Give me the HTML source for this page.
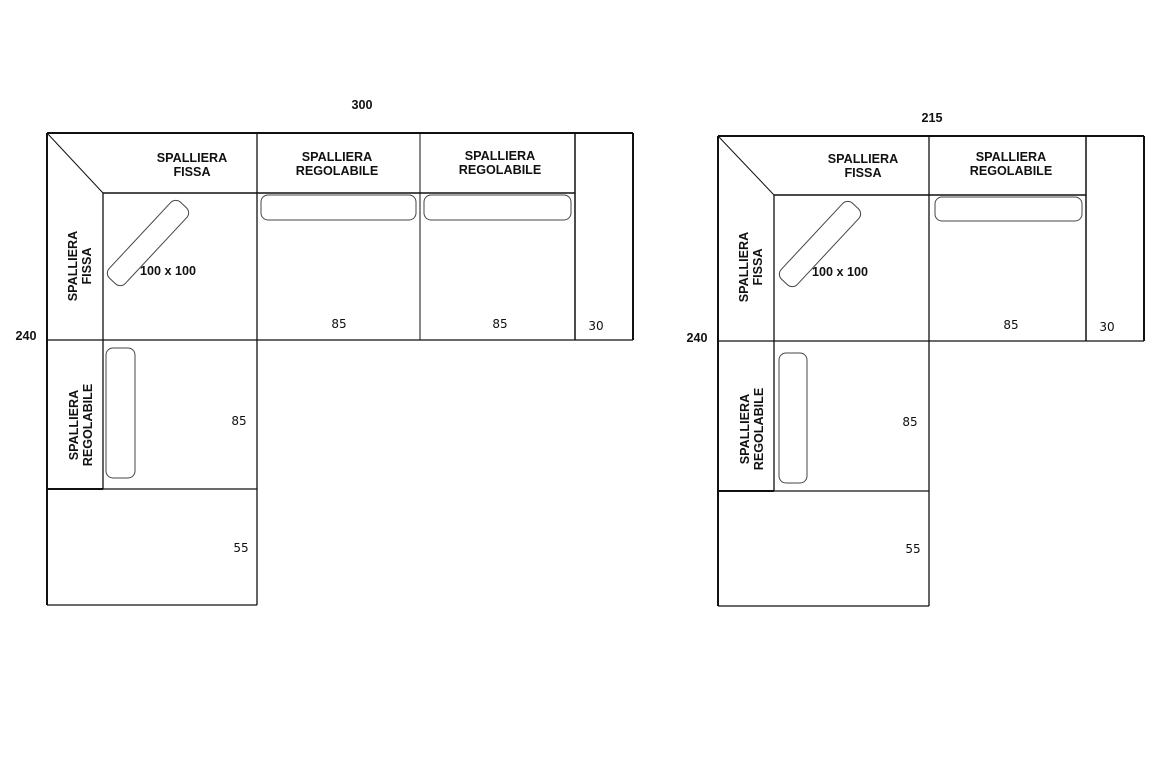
<!DOCTYPE html>
<html><head><meta charset="utf-8"><style>
html,body{margin:0;padding:0;background:#fff;}
svg{display:block}
.b{font-family:"Liberation Sans",Arial,sans-serif;font-weight:bold;font-size:12.6px;fill:#111}
.n{font-family:"DejaVu Sans","Liberation Sans",sans-serif;font-size:12px;fill:#111}
</style></head><body>
<svg width="1167" height="777" viewBox="0 0 1167 777" xmlns="http://www.w3.org/2000/svg">
<g stroke="#111" fill="none" stroke-width="1.3">
<line x1="47" y1="133" x2="633" y2="133" stroke-width="2"/>
<line x1="47" y1="133" x2="47" y2="605" stroke-width="2"/>
<line x1="47" y1="605" x2="257" y2="605"/>
<line x1="47" y1="133" x2="103" y2="193" stroke-width="1"/>
<line x1="103" y1="193" x2="575" y2="193" stroke-width="1.5"/>
<line x1="103" y1="193" x2="103" y2="489"/>
<line x1="257" y1="133" x2="257" y2="605"/>
<line x1="420" y1="133" x2="420" y2="340" stroke-width="1"/>
<line x1="575" y1="133" x2="575" y2="340" stroke-width="1.5"/>
<line x1="633" y1="133" x2="633" y2="340" stroke-width="2"/>
<line x1="47" y1="340" x2="633" y2="340"/>
<line x1="47" y1="489" x2="257" y2="489"/>
<line x1="47" y1="489" x2="103" y2="489" stroke-width="2"/>
<rect x="261" y="195" width="155" height="25" rx="7" stroke="#444" stroke-width="1"/>
<rect x="424" y="195" width="147" height="25" rx="7" stroke="#444" stroke-width="1"/>
<rect x="106" y="348" width="29" height="130" rx="7" stroke="#444" stroke-width="1"/>
<rect x="-52" y="-11" width="104" height="22" rx="7" stroke="#444" stroke-width="1" transform="translate(148,243) rotate(-47)"/>
<line x1="718" y1="136" x2="1144" y2="136" stroke-width="2"/>
<line x1="718" y1="136" x2="718" y2="606" stroke-width="2"/>
<line x1="718" y1="606" x2="929" y2="606"/>
<line x1="718" y1="136" x2="774" y2="195" stroke-width="1"/>
<line x1="774" y1="195" x2="1086" y2="195" stroke-width="1.5"/>
<line x1="774" y1="195" x2="774" y2="491"/>
<line x1="929" y1="136" x2="929" y2="606"/>
<line x1="1086" y1="136" x2="1086" y2="341" stroke-width="1.5"/>
<line x1="1144" y1="136" x2="1144" y2="341" stroke-width="2"/>
<line x1="718" y1="341" x2="1144" y2="341"/>
<line x1="718" y1="491" x2="929" y2="491"/>
<line x1="718" y1="491" x2="774" y2="491" stroke-width="2"/>
<rect x="935" y="197" width="147" height="24" rx="7" stroke="#444" stroke-width="1"/>
<rect x="779" y="353" width="28" height="130" rx="7" stroke="#444" stroke-width="1"/>
<rect x="-52" y="-11" width="104" height="22" rx="7" stroke="#444" stroke-width="1" transform="translate(820,244) rotate(-47)"/>
</g>
<text class="b" x="362" y="109" text-anchor="middle">300</text>
<text class="b" x="26" y="340" text-anchor="middle">240</text>
<text class="b" x="192" y="162" text-anchor="middle">SPALLIERA</text>
<text class="b" x="192" y="176" text-anchor="middle">FISSA</text>
<text class="b" x="337" y="161" text-anchor="middle">SPALLIERA</text>
<text class="b" x="337" y="175" text-anchor="middle">REGOLABILE</text>
<text class="b" x="500" y="160" text-anchor="middle">SPALLIERA</text>
<text class="b" x="500" y="174" text-anchor="middle">REGOLABILE</text>
<text class="b" x="168" y="275" text-anchor="middle">100 x 100</text>
<text class="b" transform="translate(77,266) rotate(-90)" text-anchor="middle">SPALLIERA</text>
<text class="b" transform="translate(91,266) rotate(-90)" text-anchor="middle">FISSA</text>
<text class="b" transform="translate(78,425) rotate(-90)" text-anchor="middle">SPALLIERA</text>
<text class="b" transform="translate(92,425) rotate(-90)" text-anchor="middle">REGOLABILE</text>
<text class="n" x="339" y="328" text-anchor="middle">85</text>
<text class="n" x="500" y="328" text-anchor="middle">85</text>
<text class="n" x="596" y="330" text-anchor="middle">30</text>
<text class="n" x="239" y="425" text-anchor="middle">85</text>
<text class="n" x="241" y="552" text-anchor="middle">55</text>
<text class="b" x="932" y="122" text-anchor="middle">215</text>
<text class="b" x="697" y="342" text-anchor="middle">240</text>
<text class="b" x="863" y="163" text-anchor="middle">SPALLIERA</text>
<text class="b" x="863" y="177" text-anchor="middle">FISSA</text>
<text class="b" x="1011" y="161" text-anchor="middle">SPALLIERA</text>
<text class="b" x="1011" y="175" text-anchor="middle">REGOLABILE</text>
<text class="b" x="840" y="276" text-anchor="middle">100 x 100</text>
<text class="b" transform="translate(748,267) rotate(-90)" text-anchor="middle">SPALLIERA</text>
<text class="b" transform="translate(762,267) rotate(-90)" text-anchor="middle">FISSA</text>
<text class="b" transform="translate(749,429) rotate(-90)" text-anchor="middle">SPALLIERA</text>
<text class="b" transform="translate(763,429) rotate(-90)" text-anchor="middle">REGOLABILE</text>
<text class="n" x="1011" y="329" text-anchor="middle">85</text>
<text class="n" x="1107" y="331" text-anchor="middle">30</text>
<text class="n" x="910" y="426" text-anchor="middle">85</text>
<text class="n" x="913" y="553" text-anchor="middle">55</text>
</svg>
</body></html>
